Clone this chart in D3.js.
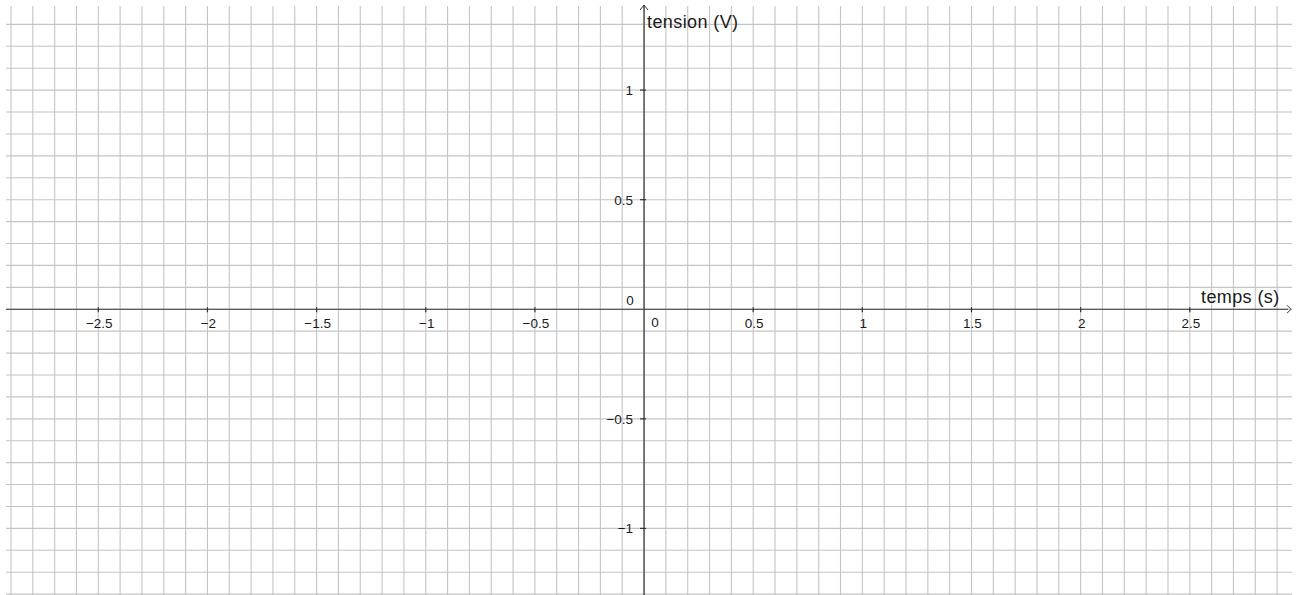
<!DOCTYPE html>
<html>
<head>
<meta charset="utf-8">
<script src="https://cdn.jsdelivr.net/npm/d3@7"></script>
<style>
  html, body { margin: 0; padding: 0; background: #fff; }
  svg { display: block; }
  text { font-family: "Liberation Sans", Arial, sans-serif; fill: #1a1a1a; }
</style>
</head>
<body>
<svg id="chart" width="1297" height="595"></svg>
<script>
// Axis ranges and labelled ticks
const xDomain = [-2.5, 2.5];
const yDomain = [-1, 1];
const xTicks = [-2.5, -2, -1.5, -1, -0.5, 0.5, 1, 1.5, 2, 2.5];
const yTicks = [-1, -0.5, 0.5, 1];
const xTickLabels = ["\u22122.5", "\u22122", "\u22121.5", "\u22121", "\u22120.5", "0.5", "1", "1.5", "2", "2.5"];
const yTickLabels = ["\u22121", "\u22120.5", "0.5", "1"];
const xTitle = "temps (s)";
const yTitle = "tension (V)";
const gridStep = 0.1;

const W = 1297, H = 595;
const svg = d3.select("#chart");

const x = d3.scaleLinear().domain(xDomain).range([98.3, 1189.8]);
const y = d3.scaleLinear().domain(yDomain).range([528.4, 90.1]);

// plotting window of the grid
const gLeft = 6, gTop = 6, gRight = 1292, gBottom = H;
const xMin = x.invert(gLeft), xMax = x.invert(gRight);
const yMin = y.invert(gBottom), yMax = y.invert(gTop);

// grid lines every 0.1 unit
const gx = d3.range(Math.ceil(xMin / gridStep), Math.floor(xMax / gridStep) + 1).map(k => k * gridStep);
const gy = d3.range(Math.ceil(yMin / gridStep), Math.floor(yMax / gridStep) + 1).map(k => k * gridStep);

const grid = svg.append("g").attr("stroke", "#c4c4c4").attr("stroke-width", 1.1);
grid.selectAll("line.v").data(gx).join("line").attr("class", "v")
  .attr("x1", d => x(d)).attr("x2", d => x(d))
  .attr("y1", gTop).attr("y2", gBottom);
grid.selectAll("line.h").data(gy).join("line").attr("class", "h")
  .attr("x1", gLeft).attr("x2", gRight)
  .attr("y1", d => y(d)).attr("y2", d => y(d));

// axes
const x0 = x(0), y0 = y(0);
const axes = svg.append("g").attr("stroke", "#333").attr("stroke-width", 1.2).attr("fill", "none");
axes.append("line").attr("x1", gLeft).attr("x2", 1288).attr("y1", y0).attr("y2", y0);
axes.append("line").attr("x1", x0).attr("x2", x0).attr("y1", 5).attr("y2", gBottom);
// arrow heads
axes.append("path").attr("d", `M${x0 - 4},${10} L${x0},${5} L${x0 + 4},${10}`).attr("stroke-width", 1);
axes.append("path").attr("d", `M${1287},${y0 - 4} L${1291},${y0} L${1287},${y0 + 4}`).attr("stroke-width", 1);

// tick marks
axes.selectAll("line.xt").data(xTicks).join("line").attr("class", "xt")
  .attr("x1", d => x(d)).attr("x2", d => x(d))
  .attr("y1", y0 - 2).attr("y2", y0 + 3);
axes.selectAll("line.yt").data(yTicks).join("line").attr("class", "yt")
  .attr("x1", x0 - 4).attr("x2", x0 + 2)
  .attr("y1", d => y(d)).attr("y2", d => y(d));

// tick labels
const lab = svg.append("g").attr("font-size", 13.5);
lab.selectAll("text.xl").data(xTicks).join("text").attr("class", "xl")
  .attr("x", d => x(d) + 1).attr("y", y0 + 19)
  .attr("text-anchor", "middle")
  .text((d, i) => xTickLabels[i]);
lab.selectAll("text.yl").data(yTicks).join("text").attr("class", "yl")
  .attr("x", x0 - 11).attr("y", d => y(d) + 5)
  .attr("text-anchor", "end")
  .text((d, i) => yTickLabels[i]);
// origin labels
lab.append("text").attr("x", x0 - 14).attr("y", y0 - 4).attr("text-anchor", "middle").text("0");
lab.append("text").attr("x", x0 + 11).attr("y", y0 + 18).attr("text-anchor", "middle").text("0");

// axis titles
svg.append("text").attr("x", x0 + 3).attr("y", 28).attr("font-size", 18).attr("letter-spacing", 0.4).text(yTitle);
svg.append("text").attr("x", 1201).attr("y", y0 - 6).attr("font-size", 18).attr("letter-spacing", 0.4).text(xTitle);
</script>
</body>
</html>
